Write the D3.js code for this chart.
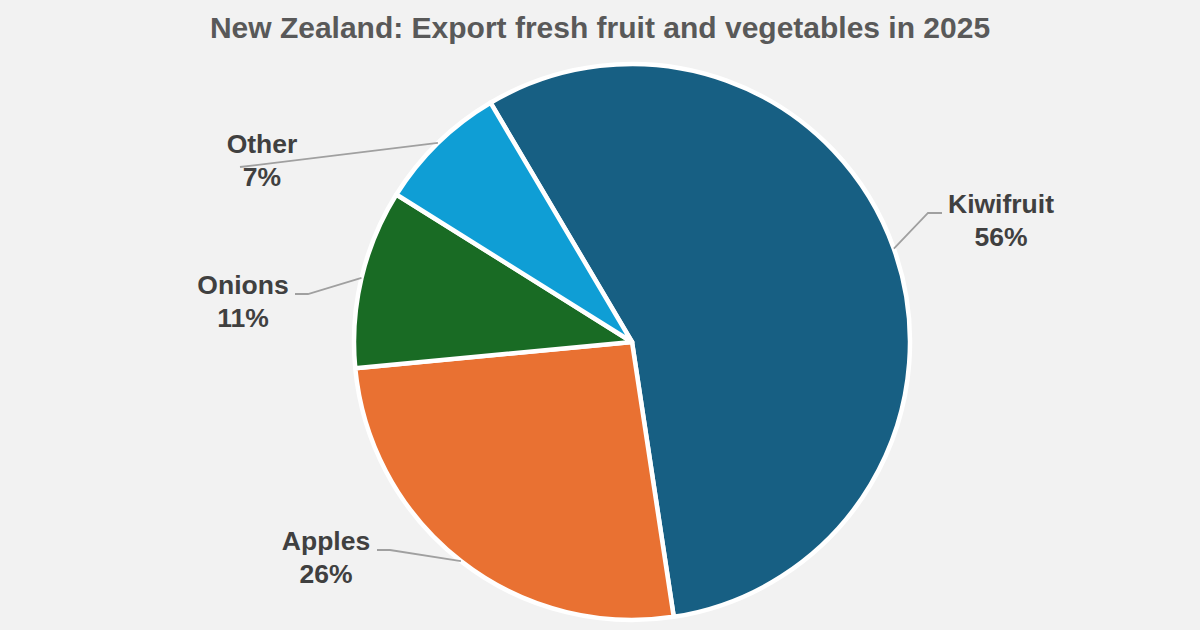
<!DOCTYPE html>
<html>
<head>
<meta charset="utf-8">
<script src="https://cdn.jsdelivr.net/npm/d3@7"></script>
<style>
  html, body { margin: 0; padding: 0; background: #f2f2f2; }
  svg { display: block; }
  text { font-family: "Liberation Sans", Arial, sans-serif; font-weight: bold; }
</style>
</head>
<body>
<svg id="chart" width="1200" height="630"></svg>
<script>
const title = "New Zealand: Export fresh fruit and vegetables in 2025";
const categories = ["Kiwifruit", "Apples", "Onions", "Other"];
const shares = [56.1, 25.9, 10.4, 7.6];
const percentLabels = ["56%", "26%", "11%", "7%"]; // as printed on the chart
const colors = ["#175f83", "#e97132", "#196b24", "#0f9ed5"];

const width = 1200, height = 630;
const cx = 632, cy = 342, radius = 278;
const startAngle = -30.6 * Math.PI / 180;

// label placement per category: text centre/baseline, then leader elbow and end
const labelX = [1001, 326, 243, 262];
const labelY = [213, 550, 294, 153];
const elbows = [[928, 213], [390, 550], [308, 294], null];
const leaderEnds = [[942, 213], [377, 550], [295, 294], [240, 167]];

const svg = d3.select("#chart");

svg.append("text")
  .attr("x", 600)
  .attr("y", 38)
  .attr("text-anchor", "middle")
  .attr("font-size", 30)
  .attr("fill", "#595959")
  .text(title);

const pie = d3.pie()
  .sort(null)
  .startAngle(startAngle)
  .endAngle(startAngle + 2 * Math.PI);

const arcs = pie(shares);
const arc = d3.arc().innerRadius(0).outerRadius(radius);
const edgeArc = d3.arc().innerRadius(radius).outerRadius(radius);

const g = svg.append("g").attr("transform", `translate(${cx},${cy})`);

g.selectAll("path")
  .data(arcs)
  .enter().append("path")
  .attr("d", arc)
  .attr("fill", (d, i) => colors[i])
  .attr("stroke", "#fff")
  .attr("stroke-width", 4.5)
  .attr("stroke-linejoin", "round");

// leader lines start on the pie edge at the middle of each slice
const line = d3.line();
svg.append("g").selectAll("path")
  .data(arcs)
  .enter().append("path")
  .attr("d", (d, i) => {
    const [x, y] = edgeArc.centroid(d);
    const pts = [[x + cx, y + cy]];
    if (elbows[i]) pts.push(elbows[i]);
    pts.push(leaderEnds[i]);
    return line(pts);
  })
  .attr("fill", "none")
  .attr("stroke", "#a0a0a0")
  .attr("stroke-width", 1.8);

const labels = svg.append("g").selectAll("text")
  .data(categories)
  .enter().append("text")
  .attr("text-anchor", "middle")
  .attr("font-size", 26.5)
  .attr("fill", "#404040");

labels.append("tspan")
  .attr("x", (d, i) => labelX[i])
  .attr("y", (d, i) => labelY[i])
  .text(d => d);

labels.append("tspan")
  .attr("x", (d, i) => labelX[i])
  .attr("y", (d, i) => labelY[i] + 33)
  .text((d, i) => percentLabels[i]);
</script>
</body>
</html>
